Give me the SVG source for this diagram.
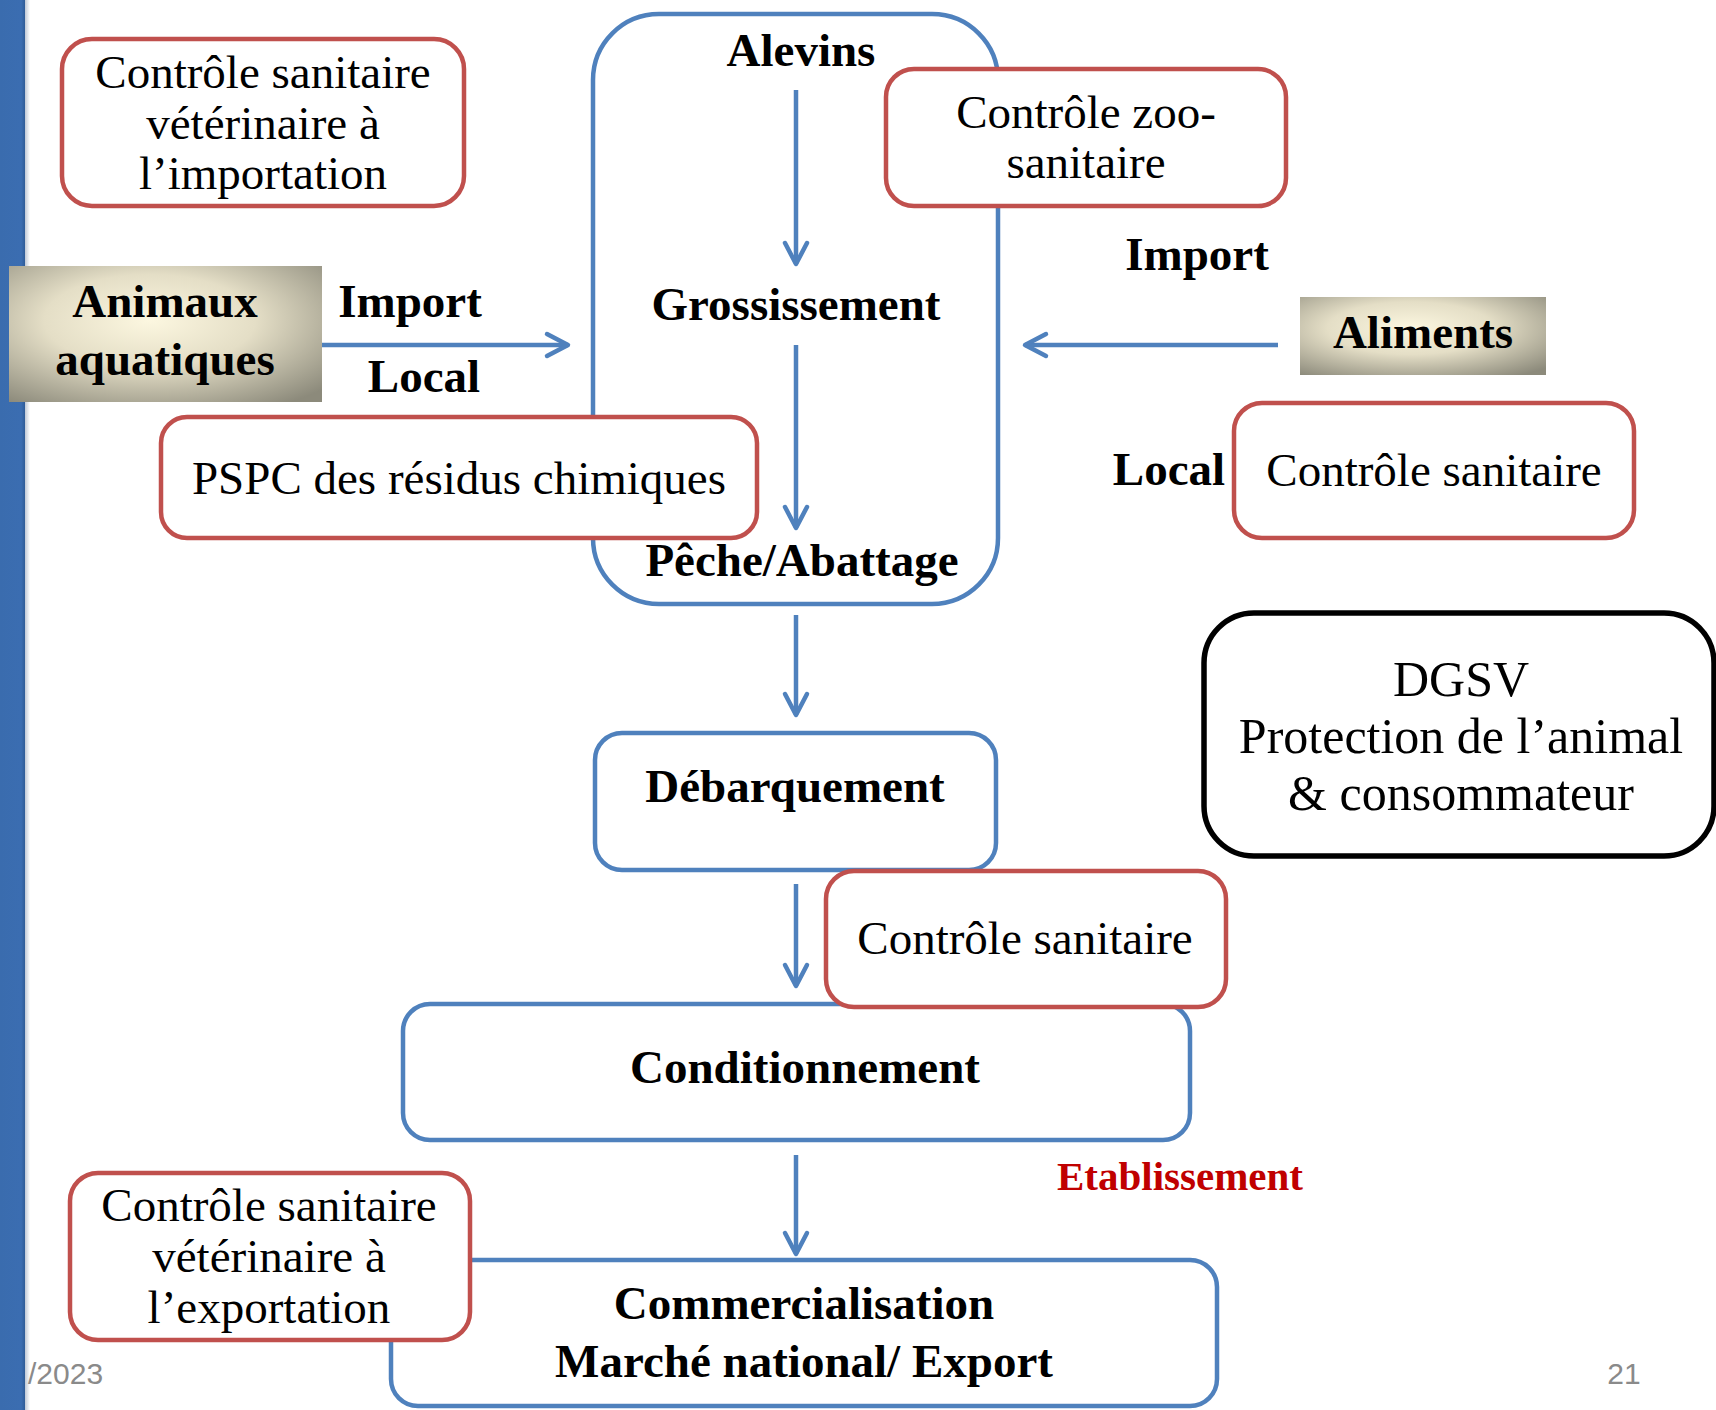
<svg xmlns="http://www.w3.org/2000/svg" width="1716" height="1410" viewBox="0 0 1716 1410">
<style>
.red{fill:#fff;stroke:#C0504D;stroke-width:4.5}
.blue{fill:#fff;stroke:#4F81BD;stroke-width:4.5}
.blk{fill:#fff;stroke:#000;stroke-width:5.5}
.grad{fill:url(#cream);stroke:none}
.t{font-family:"Liberation Serif","Times New Roman",serif;font-size:47px;fill:#000;text-anchor:middle}
.b{font-family:"Liberation Serif","Times New Roman",serif;font-size:47px;font-weight:bold;fill:#000;text-anchor:middle}
.d{font-family:"Liberation Serif","Times New Roman",serif;font-size:50px;fill:#000;text-anchor:middle}
.est{font-family:"Liberation Serif","Times New Roman",serif;font-size:41px;font-weight:bold;fill:#C00000;text-anchor:middle}
.foot{font-family:"Liberation Sans",Arial,sans-serif;font-size:30px;fill:#8A8A8A}
.con{stroke:#4F81BD;stroke-width:4.5;fill:none;marker-end:url(#arr)}
</style>
<defs>
<radialGradient id="cream" cx="0.45" cy="0.4" r="0.75">
<stop offset="0" stop-color="#FCF7E0"/>
<stop offset="0.45" stop-color="#E4DEC6"/>
<stop offset="1" stop-color="#8C8A7B"/>
</radialGradient>
<linearGradient id="bar" x1="0" y1="0" x2="1" y2="0">
<stop offset="0" stop-color="#3A6CAE"/>
<stop offset="0.85" stop-color="#3B6DB1"/>
<stop offset="1" stop-color="#2F5C98"/>
</linearGradient>
<linearGradient id="shadow" x1="0" y1="0" x2="1" y2="0">
<stop offset="0" stop-color="#BFC8D6"/>
<stop offset="1" stop-color="#FFFFFF"/>
</linearGradient>
<marker id="arr" markerUnits="userSpaceOnUse" markerWidth="40" markerHeight="40" viewBox="-30 -20 40 40" refX="0" refY="0" orient="auto">
<path d="M-21,-11 L0,0 L-21,11" fill="none" stroke="#4F81BD" stroke-width="4.5" stroke-linecap="round" stroke-linejoin="round"/>
</marker>
</defs>
<rect x="0" y="0" width="1716" height="1410" fill="#fff"/>
<rect x="0" y="0" width="25" height="1410" fill="url(#bar)"/>
<rect x="25" y="0" width="5" height="1410" fill="url(#shadow)"/>

<g id="bigbox"><rect class="blue" x="593" y="14" width="405" height="590" rx="66"/></g>

<g id="connectors">
<line class="con" x1="314" y1="345" x2="568" y2="345"/>
<line class="con" x1="1278" y1="345" x2="1025" y2="345"/>
<line class="con" x1="796" y1="90" x2="796" y2="264"/>
<line class="con" x1="796" y1="345" x2="796" y2="528"/>
<line class="con" x1="796" y1="615" x2="796" y2="715"/>
<line class="con" x1="796" y1="884" x2="796" y2="986"/>
<line class="con" x1="796" y1="1155" x2="796" y2="1254"/>
</g>

<g id="alevins"><text class="b" x="801" y="66">Alevins</text></g>
<g id="grossissement"><text class="b" x="796" y="320">Grossissement</text></g>

<g id="import-ctrl"><rect class="red" x="62" y="39" width="402" height="167" rx="30"/>
<text class="t" x="263" y="88">Contrôle sanitaire</text>
<text class="t" x="263" y="139">vétérinaire à</text>
<text class="t" x="263" y="189">l’importation</text></g>

<g id="animaux"><rect class="grad" x="9" y="266" width="313" height="136"/>
<text class="b" x="165" y="317">Animaux</text>
<text class="b" x="165" y="375">aquatiques</text></g>

<g id="lbl-left"><text class="b" x="410" y="317">Import</text>
<text class="b" x="424" y="392">Local</text></g>

<g id="zoo"><rect class="red" x="886" y="69" width="400" height="137" rx="28"/>
<text class="t" x="1086" y="128">Contrôle zoo-</text>
<text class="t" x="1086" y="178">sanitaire</text></g>

<g id="lbl-right"><text class="b" x="1197" y="270">Import</text>
<text class="b" x="1169" y="485">Local</text></g>

<g id="aliments"><rect class="grad" x="1300" y="297" width="246" height="78"/>
<text class="b" x="1423" y="348">Aliments</text></g>

<g id="ctrl-local"><rect class="red" x="1234" y="403" width="400" height="135" rx="28"/>
<text class="t" x="1434" y="486">Contrôle sanitaire</text></g>

<g id="pspc"><rect class="red" x="161" y="417" width="596" height="121" rx="26"/>
<text class="t" x="459" y="494">PSPC des résidus chimiques</text></g>

<g id="peche"><text class="b" x="802" y="576">Pêche/Abattage</text></g>

<g id="debarquement"><rect class="blue" x="595" y="733" width="401" height="137" rx="27"/>
<text class="b" x="795" y="802">Débarquement</text></g>

<g id="dgsv"><rect class="blk" x="1204" y="613" width="510" height="243" rx="50"/>
<text class="d" x="1461" y="696">DGSV</text>
<text class="d" x="1461" y="753">Protection de l’animal</text>
<text class="d" x="1461" y="810">&amp; consommateur</text></g>

<g id="conditionnement"><rect class="blue" x="403" y="1004" width="787" height="136" rx="27"/>
<text class="b" x="805" y="1083">Conditionnement</text></g>

<g id="ctrl-mid"><rect class="red" x="826" y="871" width="400" height="136" rx="28"/>
<text class="t" x="1025" y="954">Contrôle sanitaire</text></g>

<g id="etablissement"><text class="est" x="1180" y="1190">Etablissement</text></g>

<g id="commercialisation"><rect class="blue" x="391" y="1260" width="826" height="146" rx="27"/>
<text class="b" x="804" y="1319">Commercialisation</text>
<text class="b" x="804" y="1377">Marché national/ Export</text></g>

<g id="export-ctrl"><rect class="red" x="70" y="1173" width="400" height="167" rx="28"/>
<text class="t" x="269" y="1221">Contrôle sanitaire</text>
<text class="t" x="269" y="1272">vétérinaire à</text>
<text class="t" x="269" y="1323">l’exportation</text></g>

<g id="footer"><text class="foot" x="28" y="1384">/2023</text>
<text class="foot" x="1624" y="1384" text-anchor="middle">21</text></g>
</svg>
